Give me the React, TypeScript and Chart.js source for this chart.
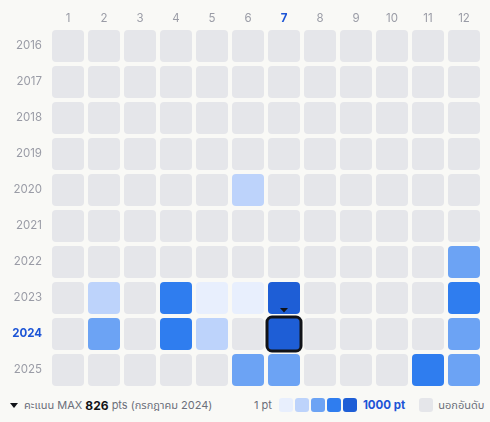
import { useEffect, useRef } from 'react';
import { Chart, registerables } from 'chart.js';

Chart.register(...registerables);

const months = ['1', '2', '3', '4', '5', '6', '7', '8', '9', '10', '11', '12'];
const years = [2016, 2017, 2018, 2019, 2020, 2021, 2022, 2023, 2024, 2025];
const _ = null;
// monthly ranking points per year (null = out of ranking)
const scores2016 = [_, _, _, _, _, _, _, _, _, _, _, _];
const scores2017 = [_, _, _, _, _, _, _, _, _, _, _, _];
const scores2018 = [_, _, _, _, _, _, _, _, _, _, _, _];
const scores2019 = [_, _, _, _, _, _, _, _, _, _, _, _];
const scores2020 = [_, _, _, _, _, 10, _, _, _, _, _, _];
const scores2021 = [_, _, _, _, _, _, _, _, _, _, _, _];
const scores2022 = [_, _, _, _, _, _, _, _, _, _, _, 45];
const scores2023 = [_, 9, _, 180, 2, 3, 540, _, _, _, _, 190];
const scores2024 = [_, 50, _, 170, 8, _, 826, _, _, _, _, 40];
const scores2025 = [_, _, _, _, _, 35, 55, _, _, _, 210, 45];
const scoreRows = [scores2016, scores2017, scores2018, scores2019, scores2020, scores2021, scores2022, scores2023, scores2024, scores2025];

const levelThresholds = [1, 4, 16, 63, 251];
const levelColors = ['#e8effd', '#bdd3fb', '#6ca3f4', '#2f7def', '#1e5ed6'];
const emptyColor = '#e5e6ea';
const maxYear = 2024;
const maxMonth = '7';

const FONT = 'Inter, "Noto Sans", "Noto Sans Thai", sans-serif';
const GREY = '#9a9ca6';
const BLUE = '#1d55d6';

function colorFor(v: number | null) {
  if (v == null) return emptyColor;
  let lvl = 0;
  for (let i = 0; i < levelThresholds.length; i++) if (v >= levelThresholds[i]) lvl = i;
  return levelColors[lvl];
}

const highlightPlugin = {
  id: 'highlightMax',
  afterDatasetsDraw(chart: any) {
    const meta = chart.getDatasetMeta(0);
    const ds = chart.data.datasets[0];
    const idx = ds.data.findIndex((d: any) => d.year === maxYear && d.x === maxMonth);
    if (idx < 0) return;
    const el = meta.data[idx];
    const p = el.getProps(['x', 'y', 'base', 'width'], true);
    const top = Math.min(p.y, p.base);
    const h = Math.abs(p.base - p.y);
    const left = p.x - p.width / 2;
    const ctx = chart.ctx;
    ctx.save();
    ctx.strokeStyle = '#111318';
    ctx.lineWidth = 3;
    ctx.beginPath();
    ctx.roundRect(left - 1, top - 1, p.width + 2, h + 2, 5);
    ctx.stroke();
    ctx.fillStyle = '#111318';
    ctx.beginPath();
    ctx.moveTo(p.x - 4, top - 10);
    ctx.lineTo(p.x + 4, top - 10);
    ctx.lineTo(p.x, top - 5.5);
    ctx.closePath();
    ctx.fill();
    ctx.restore();
  },
};

export default function App() {
  const ref = useRef<HTMLCanvasElement>(null);

  useEffect(() => {
    document.body.style.margin = '0';
    document.body.style.background = '#f9f9f6';
    const data: any[] = [];
    years.forEach((yr, yi) => {
      months.forEach((m, mi) => {
        data.push({ x: m, y: [yr - 0.4445, yr + 0.4445], year: yr, v: scoreRows[yi][mi] });
      });
    });
    const chart = new Chart(ref.current!, {
      type: 'bar',
      data: {
        labels: months,
        datasets: [
          {
            data,
            backgroundColor: (c: any) => colorFor(c.raw ? c.raw.v : null),
            borderRadius: 4,
            borderSkipped: false,
            borderWidth: 0,
            inflateAmount: 0,
            barPercentage: 32 / 36,
            categoryPercentage: 1,
          } as any,
        ],
      },
      options: {
        animation: false,
        responsive: false,
        maintainAspectRatio: false,
        layout: { padding: { left: 0, right: 8, top: 0, bottom: 4 } },
        plugins: { legend: { display: false }, tooltip: { enabled: false } },
        scales: {
          x: {
            type: 'category',
            position: 'top',
            grid: { display: false, drawTicks: false },
            border: { display: false },
            afterFit: (s: any) => { s.height = 28; s.paddingLeft = 0; s.paddingRight = 0; },
            ticks: {
              padding: 3,
              color: (c: any) => (months[c.index] === maxMonth ? BLUE : GREY),
              font: (c: any) => ({ family: FONT, size: 11.5, weight: months[c.index] === maxMonth ? 'bold' : 'normal' }),
            },
          },
          y: {
            type: 'linear',
            reverse: true,
            min: years[0] - 0.5,
            max: years[years.length - 1] + 0.5,
            grid: { display: false, drawTicks: false },
            border: { display: false },
            afterFit: (s: any) => { s.width = 50; s.paddingTop = 0; s.paddingBottom = 0; },
            afterBuildTicks: (s: any) => { s.ticks = years.map((v) => ({ value: v })); },
            ticks: {
              padding: 8,
              callback: (v: any) => String(v),
              color: (c: any) => (c.tick && c.tick.value === maxYear ? BLUE : GREY),
              font: (c: any) => ({ family: FONT, size: 11.5, weight: c.tick && c.tick.value === maxYear ? 'bold' : 'normal' }),
            },
          },
        } as any,
      },
      plugins: [highlightPlugin],
    });
    return () => chart.destroy();
  }, []);

  const sq = (color: string, ml: number) => (
    <span style={{ display: 'inline-block', width: 14, height: 14, borderRadius: 3, background: color, marginLeft: ml }} />
  );

  return (
    <div style={{ position: 'relative', width: 490, height: 422, background: '#f9f9f6', fontFamily: FONT, fontSize: 11 }}>
      <canvas ref={ref} width={490} height={392} style={{ display: 'block' }} />
      <div style={{ position: 'absolute', left: 10, top: 398, height: 14, display: 'flex', alignItems: 'center', color: '#6b6f7a', whiteSpace: 'nowrap' }}>
        <span style={{ display: 'inline-block', width: 0, height: 0, borderLeft: '4px solid transparent', borderRight: '4px solid transparent', borderTop: '5px solid #111318', marginRight: 6 }} />
        <span>คะแนน MAX&nbsp;</span>
        <b style={{ color: '#111318', fontSize: 12 }}>826</b>
        <span>&nbsp;pts (กรกฎาคม {maxYear})</span>
      </div>
      <div style={{ position: 'absolute', left: 254, top: 398, height: 14, display: 'flex', alignItems: 'center', color: '#6b6f7a', whiteSpace: 'nowrap' }}>
        <span>1 pt</span>
        {sq(levelColors[0], 7)}
        {sq(levelColors[1], 2)}
        {sq(levelColors[2], 2)}
        {sq(levelColors[3], 2)}
        {sq(levelColors[4], 2)}
        <b style={{ color: BLUE, marginLeft: 6, fontSize: 11.5 }}>1000 pt</b>
        {sq(emptyColor, 14)}
        <span style={{ marginLeft: 5 }}>นอกอันดับ</span>
      </div>
    </div>
  );
}
